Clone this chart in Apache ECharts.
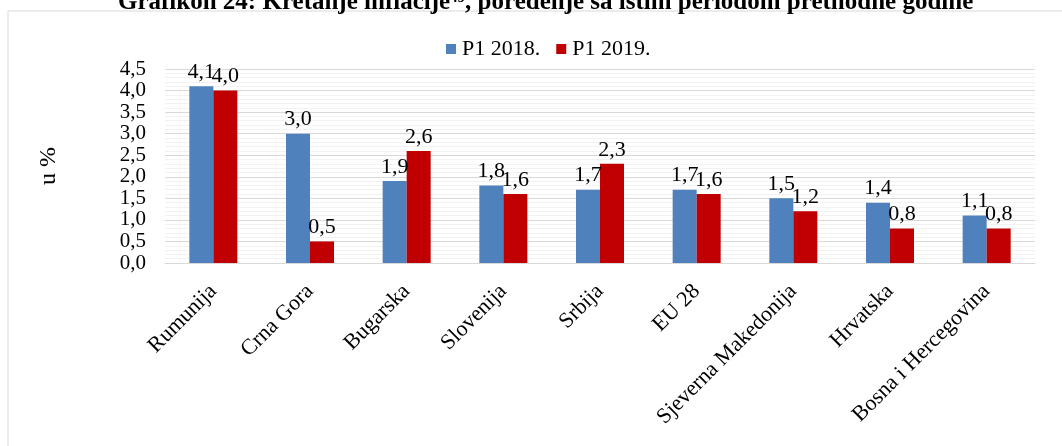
<!DOCTYPE html>
<html>
<head>
<meta charset="utf-8">
<script src="https://cdn.jsdelivr.net/npm/echarts@6/dist/echarts.min.js"></script>
<style>
  html,body{margin:0;padding:0;background:#fff;}
  #chart{width:1062px;height:446px;}
</style>
</head>
<body>
<div id="chart"></div>
<script>
// podaci
var zemlje = ["Rumunija", "Crna Gora", "Bugarska", "Slovenija", "Srbija", "EU 28", "Sjeverna Makedonija", "Hrvatska", "Bosna i Hercegovina"];
var p1_2018 = [4.1, 3.0, 1.9, 1.8, 1.7, 1.7, 1.5, 1.4, 1.1];
var p1_2019 = [4.0, 0.5, 2.6, 1.6, 2.3, 1.6, 1.2, 0.8, 0.8];

var font = "'Liberation Serif', 'Times New Roman', serif";

function fmt(p){
  return p.value.toFixed(1).replace(".", ",");
}

var option = {
  animation: false,
  textStyle: { fontFamily: font },
  title: {
    text: "Grafikon 24: Kretanje inflacije\u2074\u2079, poređenje sa istim periodom prethodne godine",
    left: 113,
    top: -15,
    textStyle: { fontFamily: font, fontSize: 25, fontWeight: "bold", color: "#000" }
  },
  graphic: [{
    type: "rect",
    shape: { x: 8, y: 11, width: 1100, height: 500 },
    style: { fill: null, stroke: "#d9d9d9", lineWidth: 1 },
    silent: true
  }],
  legend: {
    top: 33,
    left: 441,
    itemWidth: 10,
    itemHeight: 10,
    itemGap: 16,
    icon: "rect",
    textStyle: { fontFamily: font, fontSize: 22, color: "#000", padding: [0, 0, 0, 1] },
    data: ["P1 2018.", "P1 2019."]
  },
  grid: { left: 165, right: 27, top: 69, bottom: 183 },
  xAxis: {
    type: "category",
    data: zemlje,
    axisLine: { lineStyle: { color: "#d9d9d9", width: 1 } },
    axisTick: { show: false },
    axisLabel: {
      rotate: 45,
      interval: 0,
      margin: 25,
      fontFamily: font,
      fontSize: 22,
      color: "#000"
    }
  },
  yAxis: {
    type: "value",
    min: 0,
    max: 4.5,
    interval: 0.5,
    name: "u %",
    nameLocation: "middle",
    nameGap: 104,
    nameRotate: 90,
    nameTextStyle: { fontFamily: font, fontSize: 24, color: "#000" },
    axisLine: { show: false },
    axisTick: { show: false },
    axisLabel: {
      margin: 19,
      fontFamily: font,
      fontSize: 21,
      lineHeight: 19,
      color: "#000",
      showMinLabel: true,
      showMaxLabel: true,
      formatter: function(v){ return v.toFixed(1).replace(".", ","); }
    },
    splitLine: { lineStyle: { color: "#d9d9d9", width: 1 } },
    minorTick: { show: false, splitNumber: 5 },
    minorSplitLine: { show: true, lineStyle: { color: "#f2f2f2", width: 1 } }
  },
  series: [
    {
      name: "P1 2018.",
      type: "bar",
      data: p1_2018,
      barWidth: 24,
      barGap: "0%",
      itemStyle: { color: "#4f81bd" },
      label: { show: true, position: "top", distance: 3, fontFamily: font, fontSize: 22, color: "#000", formatter: fmt }
    },
    {
      name: "P1 2019.",
      type: "bar",
      data: p1_2019,
      barWidth: 24,
      barGap: "0%",
      itemStyle: { color: "#c00000" },
      label: { show: true, position: "top", distance: 3, fontFamily: font, fontSize: 22, color: "#000", formatter: fmt }
    }
  ]
};

var mychart = echarts.init(document.getElementById("chart"));
mychart.setOption(option);
</script>
</body>
</html>
